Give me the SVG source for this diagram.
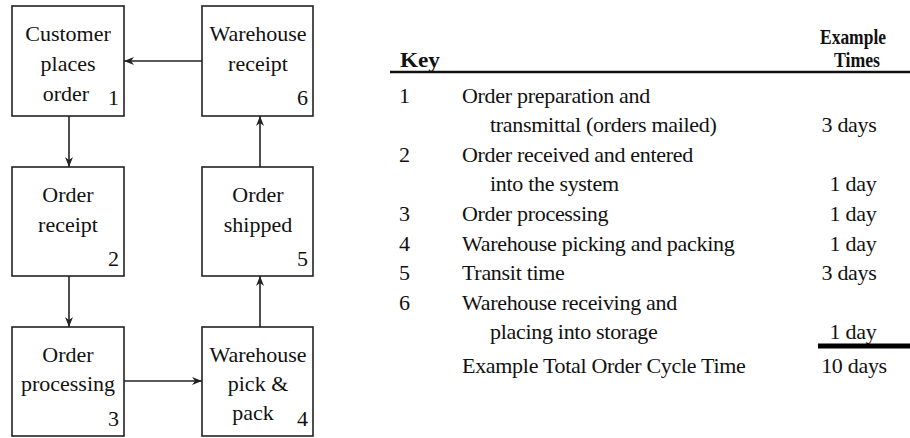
<svg xmlns="http://www.w3.org/2000/svg" width="910" height="438" viewBox="0 0 910 438">
  <style>
    .box { fill: #ffffff; stroke: #222222; stroke-width: 1.6; }
    .lbl { font-family: "Liberation Serif", "Times New Roman", serif; font-size: 22px; fill: #111111; text-anchor: middle; }
    .num { font-family: "Liberation Serif", "Times New Roman", serif; font-size: 22px; fill: #111111; text-anchor: end; }
    .edge { fill: none; stroke: #222222; stroke-width: 1.6; marker-end: url(#arrow); }
    .tbl { font-family: "Liberation Serif", "Times New Roman", serif; font-size: 22px; fill: #111111; letter-spacing: -0.3px; }
    .hdr { font-family: "Liberation Serif", "Times New Roman", serif; font-size: 22px; font-weight: bold; fill: #111111; }
    .days { text-anchor: middle; }
  </style>
  <defs>
    <marker id="arrow" viewBox="0 0 10 10" refX="10" refY="5" markerWidth="10" markerHeight="10" markerUnits="userSpaceOnUse" orient="auto">
      <path d="M0,1 L10,5 L0,9 L3,5 Z" fill="#222222"/>
    </marker>
  </defs>

  <!-- flow boxes -->
  <g id="node-1">
    <rect class="box" x="12" y="6" width="112" height="110"/>
    <text class="lbl" x="68" y="41">Customer</text>
    <text class="lbl" x="68" y="71">places</text>
    <text class="lbl" x="66" y="101">order</text>
    <text class="num" x="119" y="105">1</text>
  </g>
  <g id="node-2">
    <rect class="box" x="12" y="167" width="112" height="109"/>
    <text class="lbl" x="68" y="202">Order</text>
    <text class="lbl" x="68" y="232">receipt</text>
    <text class="num" x="119" y="266">2</text>
  </g>
  <g id="node-3">
    <rect class="box" x="12" y="327" width="112" height="109"/>
    <text class="lbl" x="68" y="362">Order</text>
    <text class="lbl" x="68" y="391">processing</text>
    <text class="num" x="119" y="426">3</text>
  </g>
  <g id="node-4">
    <rect class="box" x="202" y="327" width="111" height="109"/>
    <text class="lbl" x="258" y="362">Warehouse</text>
    <text class="lbl" x="258" y="391">pick &amp;</text>
    <text class="lbl" x="253" y="420">pack</text>
    <text class="num" x="308" y="426">4</text>
  </g>
  <g id="node-5">
    <rect class="box" x="202" y="167" width="111" height="109"/>
    <text class="lbl" x="258" y="202">Order</text>
    <text class="lbl" x="258" y="232">shipped</text>
    <text class="num" x="308" y="266">5</text>
  </g>
  <g id="node-6">
    <rect class="box" x="202" y="6" width="111" height="110"/>
    <text class="lbl" x="258" y="41">Warehouse</text>
    <text class="lbl" x="258" y="71">receipt</text>
    <text class="num" x="308" y="105">6</text>
  </g>

  <!-- connectors -->
  <g id="connectors">
    <line class="edge" x1="69" y1="116" x2="69" y2="167"/>
    <line class="edge" x1="69" y1="276" x2="69" y2="327"/>
    <line class="edge" x1="124" y1="381" x2="202" y2="381"/>
    <line class="edge" x1="260" y1="327" x2="260" y2="276"/>
    <line class="edge" x1="260" y1="167" x2="260" y2="116"/>
    <line class="edge" x1="202" y1="61" x2="124" y2="61"/>
  </g>

  <!-- key table -->
  <g id="key-table">
    <text class="hdr" x="853" y="44" text-anchor="middle" textLength="66" lengthAdjust="spacingAndGlyphs">Example</text>
    <text class="hdr" x="857" y="67" text-anchor="middle" textLength="46" lengthAdjust="spacingAndGlyphs">Times</text>
    <text class="hdr" x="400" y="67" textLength="40" lengthAdjust="spacingAndGlyphs">Key</text>
    <line x1="390" y1="72" x2="910" y2="72" stroke="#111111" stroke-width="2.5"/>

    <text class="tbl" x="399" y="103">1</text>
    <text class="tbl" x="462" y="103">Order preparation and</text>
    <text class="tbl" x="490" y="132">transmittal (orders mailed)</text>
    <text class="tbl days" x="849" y="132">3 days</text>

    <text class="tbl" x="399" y="162">2</text>
    <text class="tbl" x="462" y="162">Order received and entered</text>
    <text class="tbl" x="490" y="191">into the system</text>
    <text class="tbl days" x="853" y="191">1 day</text>

    <text class="tbl" x="399" y="221">3</text>
    <text class="tbl" x="462" y="221">Order processing</text>
    <text class="tbl days" x="853" y="221">1 day</text>

    <text class="tbl" x="399" y="251">4</text>
    <text class="tbl" x="462" y="251">Warehouse picking and packing</text>
    <text class="tbl days" x="853" y="251">1 day</text>

    <text class="tbl" x="399" y="280">5</text>
    <text class="tbl" x="462" y="280">Transit time</text>
    <text class="tbl days" x="849" y="280">3 days</text>

    <text class="tbl" x="399" y="310">6</text>
    <text class="tbl" x="462" y="310">Warehouse receiving and</text>
    <text class="tbl" x="490" y="339">placing into storage</text>
    <text class="tbl days" x="853" y="339">1 day</text>

    <line x1="818" y1="346" x2="910" y2="346" stroke="#000000" stroke-width="5"/>
    <text class="tbl" x="462" y="373">Example Total Order Cycle Time</text>
    <text class="tbl days" x="854" y="373">10 days</text>
  </g>
</svg>
